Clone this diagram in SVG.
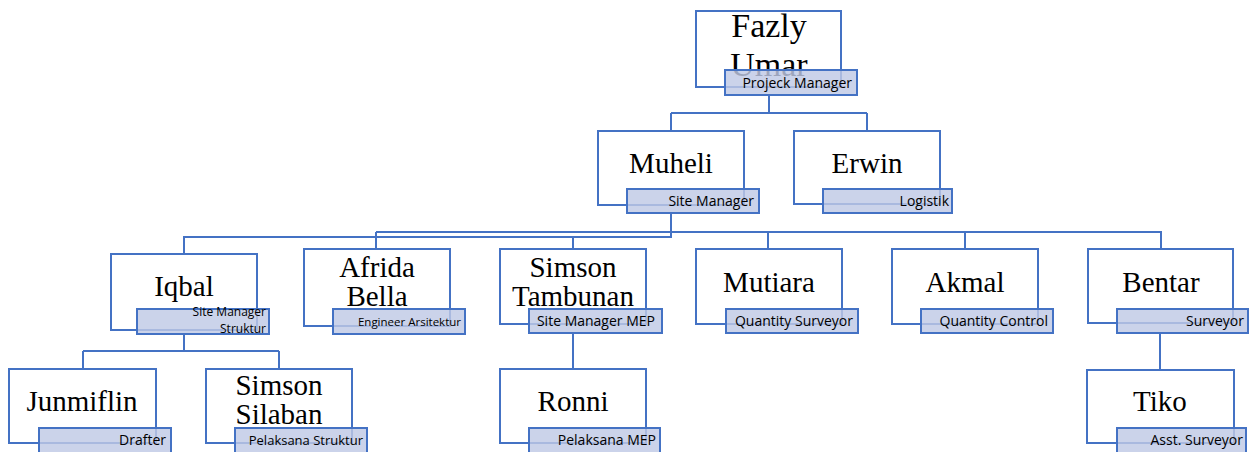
<svg xmlns="http://www.w3.org/2000/svg" width="1257" height="452" viewBox="0 0 1257 452">
<style>
.bg{fill:#ffffff}
.box{fill:#ffffff;stroke:#4472c4;stroke-width:2}
.lbl{fill:#c0c9e5;fill-opacity:0.82;stroke:#4472c4;stroke-width:2}
.con{fill:none;stroke:#4472c4;stroke-width:2}
.nm{font-family:"Liberation Serif","Times New Roman",serif;font-size:29px;fill:#000;text-anchor:middle}
.big{font-size:34px}
.role{font-family:"Open Sans","Liberation Sans",Arial,sans-serif;font-size:14px;fill:#000;text-anchor:end}
.sm{font-size:11.5px}
.mid{font-size:13px}
.two{font-size:12px}
</style>
<rect class="bg" x="0" y="0" width="1257" height="452"/>
<g id="connectors">
<path class="con" d="M769 95 V113 M671 113 H867 M671 113 V131 M867 113 V131"/>
<path class="con" d="M671 213 V237 H184 V254 M376 232 H1161 V249 M376 232 V249 M573 237 V249 M768 232 V249 M965 232 V249"/>
<path class="con" d="M184 334 V351 M83 351 H279 M83 351 V369 M279 351 V369"/>
<path class="con" d="M573 333 V369"/>
<path class="con" d="M1160 333 V370"/>
</g>
<g id="fazly">
<rect class="box" x="696" y="11" width="145" height="76"/>
<text class="nm big" x="769" y="37">Fazly</text>
<text class="nm big" x="769" y="76">Umar</text>
<rect class="lbl" x="725" y="70" width="132" height="25"/>
<text class="role" x="852" y="88">Projeck Manager</text>
</g>
<g id="muheli">
<rect class="box" x="598" y="131" width="146" height="74"/>
<text class="nm" x="671" y="173">Muheli</text>
<rect class="lbl" x="627" y="189" width="132" height="24"/>
<text class="role" x="754" y="206">Site Manager</text>
</g>
<g id="erwin">
<rect class="box" x="794" y="131" width="146" height="73"/>
<text class="nm" x="867" y="173">Erwin</text>
<rect class="lbl" x="823" y="189" width="129" height="24"/>
<text class="role" x="949" y="206">Logistik</text>
</g>
<g id="iqbal">
<rect class="box" x="111" y="254" width="146" height="76"/>
<text class="nm" x="184" y="296">Iqbal</text>
<rect class="lbl" x="137" y="309" width="132" height="25"/>
<text class="role two" x="266" y="316">Site Manager</text>
<text class="role two" x="266" y="333">Struktur</text>
</g>
<g id="afrida">
<rect class="box" x="304" y="249" width="146" height="77"/>
<text class="nm" x="377" y="277">Afrida</text>
<text class="nm" x="377" y="306">Bella</text>
<rect class="lbl" x="333" y="309" width="132" height="25"/>
<text class="role sm" x="461" y="326">Engineer Arsitektur</text>
</g>
<g id="simson-tambunan">
<rect class="box" x="500" y="249" width="146" height="75"/>
<text class="nm" x="573" y="277">Simson</text>
<text class="nm" x="573" y="306">Tambunan</text>
<rect class="lbl" x="529" y="309" width="133" height="24"/>
<text class="role" x="655" y="326">Site Manager MEP</text>
</g>
<g id="mutiara">
<rect class="box" x="696" y="249" width="146" height="75"/>
<text class="nm" x="769" y="292">Mutiara</text>
<rect class="lbl" x="726" y="309" width="132" height="24"/>
<text class="role" x="853" y="326">Quantity Surveyor</text>
</g>
<g id="akmal">
<rect class="box" x="892" y="249" width="146" height="75"/>
<text class="nm" x="965" y="292">Akmal</text>
<rect class="lbl" x="921" y="309" width="132" height="24"/>
<text class="role" x="1048" y="326">Quantity Control</text>
</g>
<g id="bentar">
<rect class="box" x="1088" y="249" width="145" height="74"/>
<text class="nm" x="1161" y="292">Bentar</text>
<rect class="lbl" x="1117" y="309" width="131" height="24"/>
<text class="role" x="1244" y="326">Surveyor</text>
</g>
<g id="junmiflin">
<rect class="box" x="9" y="369" width="147" height="74"/>
<text class="nm" x="82" y="411">Junmiflin</text>
<rect class="lbl" x="39" y="428" width="132" height="25"/>
<text class="role" x="166" y="445">Drafter</text>
</g>
<g id="simson-silaban">
<rect class="box" x="206" y="369" width="146" height="74"/>
<text class="nm" x="279" y="395">Simson</text>
<text class="nm" x="279" y="424">Silaban</text>
<rect class="lbl" x="235" y="428" width="132" height="25"/>
<text class="role mid" x="363" y="445">Pelaksana Struktur</text>
</g>
<g id="ronni">
<rect class="box" x="500" y="369" width="146" height="74"/>
<text class="nm" x="573" y="411">Ronni</text>
<rect class="lbl" x="529" y="428" width="131" height="25"/>
<text class="role" x="656" y="445">Pelaksana MEP</text>
</g>
<g id="tiko">
<rect class="box" x="1087" y="370" width="147" height="73"/>
<text class="nm" x="1160" y="411">Tiko</text>
<rect class="lbl" x="1117" y="428" width="129" height="25"/>
<text class="role" x="1243" y="445">Asst. Surveyor</text>
</g>
</svg>
